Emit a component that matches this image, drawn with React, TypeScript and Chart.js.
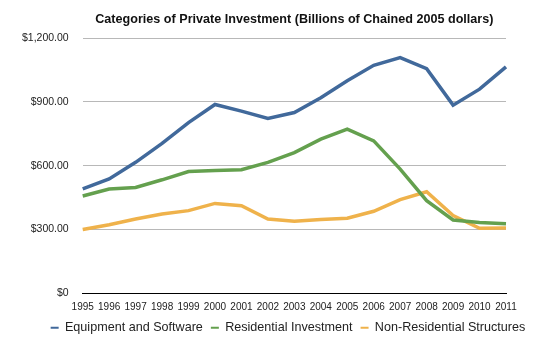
import React, { useEffect, useRef } from "react";
import { Chart, registerables } from "chart.js";

Chart.register(...registerables);

const years = ["1995","1996","1997","1998","1999","2000","2001","2002","2003","2004","2005","2006","2007","2008","2009","2010","2011"];
const equipmentSoftware = [491, 538, 616, 705, 803, 888, 857, 822, 850, 920, 1000, 1072, 1108, 1056, 885, 960, 1065];
const residential = [458, 491, 498, 534, 573, 578, 581, 616, 662, 725, 772, 717, 584, 436, 345, 333, 327];
const nonResidential = [300, 323, 350, 373, 389, 423, 412, 350, 339, 347, 353, 386, 441, 478, 366, 306, 308];
const yTicks = [0, 300, 600, 900, 1200];

const FONT = "'Liberation Sans', Arial, Helvetica, sans-serif";

const shiftLegend = {
  id: "shiftLegend",
  afterLayout(chart: any) {
    const lg = chart.legend;
    if (lg) {
      const dx = 31;
      lg.left += dx;
      lg.right += dx;
    }
  },
};

export default function App() {
  const ref = useRef<HTMLCanvasElement | null>(null);
  useEffect(() => {
    if (!ref.current) return;
    const chart = new Chart(ref.current, {
      type: "line",
      data: {
        labels: years,
        datasets: [
          { label: "Equipment and Software", data: equipmentSoftware, borderColor: "#41699b", backgroundColor: "#41699b", borderWidth: 3.5, pointRadius: 0, tension: 0 },
          { label: "Residential Investment", data: residential, borderColor: "#64a04e", backgroundColor: "#64a04e", borderWidth: 3.5, pointRadius: 0, tension: 0 },
          { label: "Non-Residential Structures", data: nonResidential, borderColor: "#efb24b", backgroundColor: "#efb24b", borderWidth: 3.5, pointRadius: 0, tension: 0 },
        ],
      },
      plugins: [shiftLegend],
      options: {
        responsive: false,
        animation: false,
        layout: { padding: { left: 0, right: 32, top: 0, bottom: 0 } },
        plugins: {
          title: {
            display: true,
            text: "Categories of Private Investment (Billions of Chained 2005 dollars)",
            fullSize: false,
            color: "#111",
            font: { family: FONT, size: 12.6, weight: "bold" },
            padding: { top: 4, bottom: 11 },
          },
          legend: {
            position: "bottom",
            fullSize: true,
            labels: {
              usePointStyle: true,
              pointStyle: "line",
              pointStyleWidth: 8,
              boxHeight: 12,
              padding: 8,
              color: "#222",
              font: { family: FONT, size: 12.6 },
              generateLabels: (c: any) => {
                const items = Chart.defaults.plugins.legend.labels.generateLabels(c);
                items.forEach((it: any) => { it.lineWidth = 2; });
                return items;
              },
            },
          },
          tooltip: { enabled: false },
        },
        scales: {
          x: {
            grid: { display: false, drawTicks: false },
            border: { display: true, color: "#000", width: 1 },
            ticks: { color: "#222", font: { family: FONT, size: 10 }, padding: 7.5, maxRotation: 0, autoSkip: false },
            afterFit: (s: any) => { s.height = 20; },
          },
          y: {
            min: 0,
            max: 1200,
            afterBuildTicks: (s: any) => { s.ticks = yTicks.map((v) => ({ value: v })); },
            grid: { color: "#b8b8b8", lineWidth: 1, drawTicks: false },
            border: { display: false },
            ticks: {
              color: "#222",
              padding: 14,
              font: { family: FONT, size: 10.5 },
              callback: (v: any) => (v === 0 ? "$0" : "$" + Number(v).toLocaleString("en-US", { minimumFractionDigits: 2, maximumFractionDigits: 2 })),
            },
          },
        },
      },
    });
    return () => chart.destroy();
  }, []);
  return (
    <div style={{ width: 530, height: 336 }}>
      <canvas ref={ref} width={530} height={336} style={{ display: "block" }} />
    </div>
  );
}
